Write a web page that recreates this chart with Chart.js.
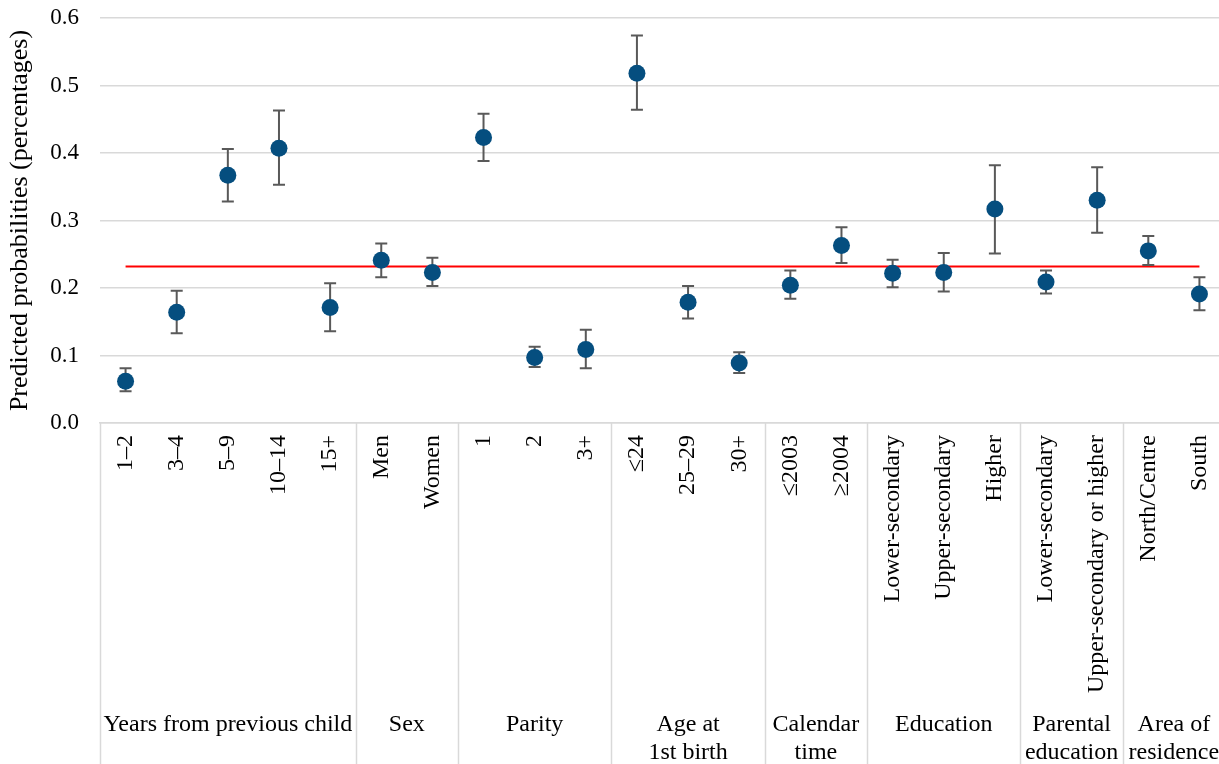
<!DOCTYPE html>
<html>
<head>
<meta charset="utf-8">
<script src="https://cdn.jsdelivr.net/npm/chart.js@4/dist/chart.umd.min.js"></script>
<style>
  html, body { margin: 0; padding: 0; background: #fff; overflow: hidden; }
  canvas { display: block; }
</style>
</head>
<body>
<canvas id="chart" width="1225" height="764"></canvas>
<script>
// Categories along the x axis
const categories = ['1–2', '3–4', '5–9', '10–14', '15+', 'Men', 'Women', '1', '2', '3+',
  '≤24', '25–29', '30+', '≤2003', '≥2004', 'Lower-secondary', 'Upper-secondary', 'Higher',
  'Lower-secondary', 'Upper-secondary or higher', 'North/Centre', 'South'];

// Predicted probabilities and their confidence bounds
const estimates = [0.062, 0.164, 0.367, 0.407, 0.171, 0.241, 0.223, 0.423, 0.097, 0.109,
  0.518, 0.179, 0.089, 0.204, 0.263, 0.222, 0.223, 0.317, 0.209, 0.330, 0.255, 0.191];
const lowerBounds = [0.047, 0.133, 0.328, 0.353, 0.136, 0.216, 0.203, 0.388, 0.083, 0.081,
  0.464, 0.155, 0.074, 0.184, 0.237, 0.201, 0.195, 0.251, 0.192, 0.282, 0.234, 0.167];
const upperBounds = [0.081, 0.196, 0.406, 0.463, 0.207, 0.266, 0.245, 0.458, 0.113, 0.138,
  0.574, 0.203, 0.105, 0.226, 0.290, 0.242, 0.252, 0.382, 0.226, 0.379, 0.277, 0.216];

// Overall average probability (reference line)
const overallMean = 0.232;

// Variable groups: label lines and number of categories in each
const groupLabels = [['Years from previous child'], ['Sex'], ['Parity'], ['Age at', '1st birth'],
  ['Calendar', 'time'], ['Education'], ['Parental', 'education'], ['Area of', 'residence']];
const groupSizes = [5, 2, 3, 3, 2, 3, 2, 2];

// Y axis ticks
const yTicks = [0.0, 0.1, 0.2, 0.3, 0.4, 0.5, 0.6];

const FONT = '"Liberation Serif", "Times New Roman", serif';
const GRID = '#d9d9d9';

const errorBars = {
  id: 'errorBars',
  beforeDatasetDraw(chart, args) {
    if (args.index !== 0) return;
    const { ctx, scales: { x, y } } = chart;
    ctx.save();
    ctx.strokeStyle = '#595959';
    ctx.lineWidth = 2;
    const cap = 6;
    estimates.forEach((_, i) => {
      const px = x.getPixelForValue(i);
      const yl = y.getPixelForValue(lowerBounds[i]);
      const yu = y.getPixelForValue(upperBounds[i]);
      ctx.beginPath();
      ctx.moveTo(px, yl); ctx.lineTo(px, yu);
      ctx.moveTo(px - cap, yl); ctx.lineTo(px + cap, yl);
      ctx.moveTo(px - cap, yu); ctx.lineTo(px + cap, yu);
      ctx.stroke();
    });
    ctx.restore();
  }
};

const groupAxis = {
  id: 'groupAxis',
  afterDraw(chart) {
    const { ctx, chartArea, scales: { x } } = chart;
    const bottom = chart.height;
    const edge = (k) => {
      if (k <= 0) return chartArea.left;
      if (k >= categories.length) return chartArea.right;
      return (x.getPixelForValue(k - 1) + x.getPixelForValue(k)) / 2;
    };
    ctx.save();
    ctx.strokeStyle = GRID;
    ctx.lineWidth = 1.5;
    let start = 0;
    const bounds = [0];
    groupSizes.forEach(n => { start += n; bounds.push(start); });
    bounds.forEach(k => {
      const px = Math.round(edge(k)) + 0.5;
      ctx.beginPath();
      ctx.moveTo(px, chartArea.bottom);
      ctx.lineTo(px, bottom);
      ctx.stroke();
    });
    ctx.fillStyle = '#000';
    ctx.font = '24px ' + FONT;
    ctx.textAlign = 'center';
    ctx.textBaseline = 'alphabetic';
    groupLabels.forEach((lines, g) => {
      const cx = (edge(bounds[g]) + edge(bounds[g + 1])) / 2;
      lines.forEach((t, j) => ctx.fillText(t, cx, 731 + j * 28));
    });
    ctx.restore();
  }
};

new Chart(document.getElementById('chart'), {
  type: 'line',
  data: {
    labels: categories,
    datasets: [
      {
        label: 'Predicted probability',
        data: estimates,
        showLine: false,
        pointRadius: 8.5,
        pointHoverRadius: 8.5,
        pointBackgroundColor: '#054e7f',
        pointBorderColor: '#054e7f',
        pointBorderWidth: 0,
        order: 0
      },
      {
        label: 'Average',
        data: [{ x: categories[0], y: overallMean }, { x: categories[categories.length - 1], y: overallMean }],
        borderColor: '#ff0000',
        borderWidth: 2,
        pointRadius: 0,
        fill: false,
        order: 1
      }
    ]
  },
  options: {
    responsive: false,
    animation: false,
    layout: { autoPadding: false, padding: { top: 18, left: 0, right: 0, bottom: 0 } },
    plugins: { legend: { display: false }, tooltip: { enabled: false } },
    scales: {
      x: {
        type: 'category',
        offset: true,
        grid: { display: false, drawTicks: false },
        border: { display: true, color: GRID, width: 1.5 },
        ticks: {
          autoSkip: false,
          minRotation: 90,
          maxRotation: 90,
          padding: 12,
          color: '#000',
          font: { family: FONT, size: 24 }
        },
        afterFit(s) {
          s.height = 341;
          s.paddingLeft = 0;
          s.paddingRight = 0;
        }
      },
      y: {
        min: 0,
        max: 0.6,
        grid: { color: GRID, lineWidth: 1.5, drawTicks: false },
        border: { display: false },
        afterBuildTicks(s) { s.ticks = yTicks.map(v => ({ value: v })); },
        ticks: {
          padding: 21,
          color: '#000',
          font: { family: FONT, size: 23 },
          callback: (v) => Number(v).toFixed(1)
        },
        title: {
          display: true,
          text: 'Predicted probabilities (percentages)',
          color: '#000',
          font: { family: FONT, size: 26 },
          padding: { top: 5, bottom: 0 }
        },
        afterFit(s) {
          s.width = 100;
          s.paddingTop = 0;
          s.paddingBottom = 0;
        }
      }
    }
  },
  plugins: [errorBars, groupAxis]
});
</script>
</body>
</html>
